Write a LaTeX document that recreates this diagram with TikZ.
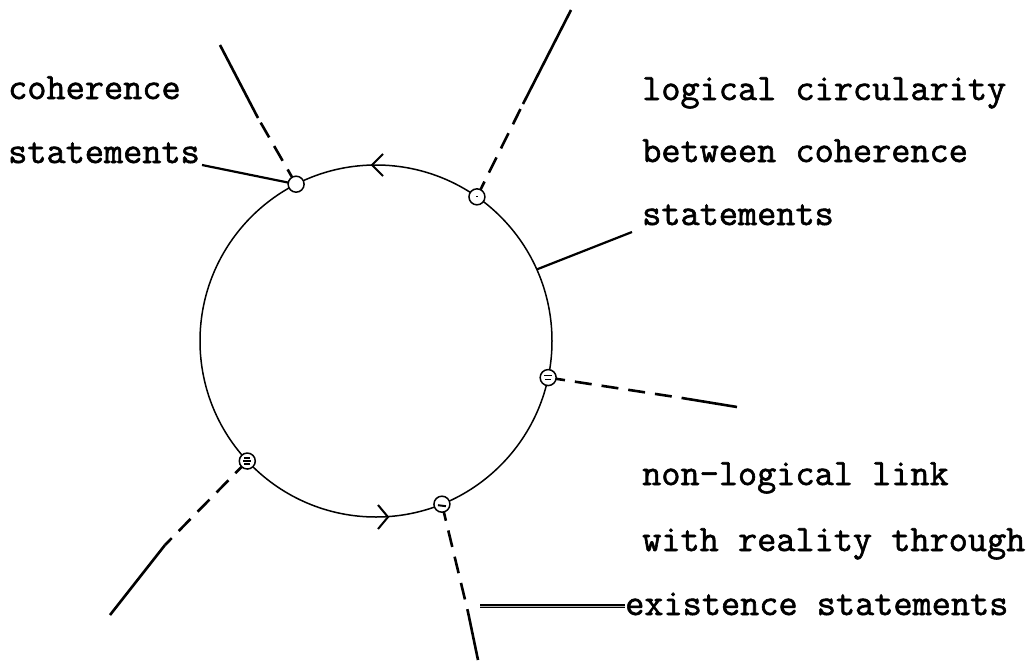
\documentclass[tikz,border=0pt]{standalone}
\usepackage{fontspec}
\newfontfamily\tw[FakeBold=1.6]{Latin Modern Mono}
\begin{document}
\begin{tikzpicture}[x=1pt,y=-1pt,
  lbl/.style={anchor=base west,inner sep=0pt,font=\tw\fontsize{37.2}{40}\selectfont},
  bigc/.style={circle,draw,line width=1.5pt,minimum size=352pt,inner sep=0pt,outer sep=0pt},
  dotc/.style={circle,draw,line width=1.5pt,fill=white,minimum size=16pt,inner sep=0pt,outer sep=0pt},
  extsolid/.style={line width=2.6pt},
  extdash/.style={line width=2.6pt,dash pattern=on 17pt off 10pt},
  leader/.style={line width=2.2pt},
  chev/.style={line width=2pt}]
\useasboundingbox (0,0) rectangle (1031,667);
% big circle
\node[bigc] (O) at (376,341) {};
% labels
\node[lbl] (coh) at (8,99) {coherence};
\node[lbl] (stL) at (8,163) {statements};
\node[lbl] (lc1) at (642,100) {logical circularity};
\node[lbl] (lc2) at (642,162) {between coherence};
\node[lbl] (lc3) at (642,225) {statements};
\node[lbl] (nl1) at (642,485) {non-logical link};
\node[lbl] (nl2) at (642,551) {with reality through};
\node[lbl] (nl3) at (625,615) {existence statements};
% direction marks on the circle
\draw[chev] (383,154) -- (372,165) -- (383,176);
\draw[chev] (378,505) -- (388,517) -- (378,529);
% external lines (drawn before the small circles)
\coordinate (tA) at (220,45);  \coordinate (mA) at (258,118);
\coordinate (tB) at (571,10);  \coordinate (mB) at (523,104);
\coordinate (tC) at (737,407); \coordinate (mC) at (682,398);
\coordinate (tD) at (110,615); \coordinate (mD) at (165,545);
\coordinate (tE) at (478,660); \coordinate (mE) at (468,612);
\coordinate (pA) at (O.117.7);
\coordinate (pB) at (O.55.3);
\coordinate (pC) at (O.-12);
\coordinate (pD) at (O.-137.3);
\coordinate (pE) at (O.-68.6);
\draw[extdash] (pA) -- (mA); \draw[extsolid] (mA) -- (tA);
\draw[extdash] (pB) -- (mB); \draw[extsolid] (mB) -- (tB);
\draw[extdash] (pC) -- (mC); \draw[extsolid] (mC) -- (tC);
\draw[extdash] (pD) -- (mD); \draw[extsolid] (mD) -- (tD);
\draw[extdash] (pE) -- (mE); \draw[extsolid] (mE) -- (tE);
% small circles
\node[dotc] (A) at (pA) {};
\node[dotc] (B) at (pB) {};
\node[dotc] (C) at (pC) {};
\node[dotc] (D) at (pD) {};
\node[dotc] (E) at (pE) {};
\fill ([xshift=-1pt]B.center) rectangle ([xshift=1pt,yshift=1pt]B.center);
\draw[line width=1.3pt] ([xshift=-3pt,yshift=-2pt]C.center) -- ([xshift=3pt,yshift=-2pt]C.center)
  ([xshift=-4pt,yshift=2pt]C.center) -- ([xshift=4pt,yshift=2pt]C.center);
\draw[line width=1.1pt] ([xshift=-3pt,yshift=-3pt]D.center) -- ([xshift=3pt,yshift=-3pt]D.center)
  ([xshift=-4pt]D.center) -- ([xshift=4pt]D.center)
  ([xshift=-3pt,yshift=3pt]D.center) -- ([xshift=3pt,yshift=3pt]D.center);
\draw[line width=2pt] ([xshift=-4pt,yshift=-1pt]E.center) -- ([xshift=4pt,yshift=-2pt]E.center);
% leaders
\coordinate (eL) at (202,165);
\draw[leader] (eL) -- (A);
\coordinate (eR) at (632,232);
\draw[leader] (eR) -- (O.24);
\coordinate (eX) at (480,606);
\draw[line width=1.2pt,double=gray!55,double distance=1pt] (eX) -- (nl3.west |- eX);
\end{tikzpicture}
\end{document}
